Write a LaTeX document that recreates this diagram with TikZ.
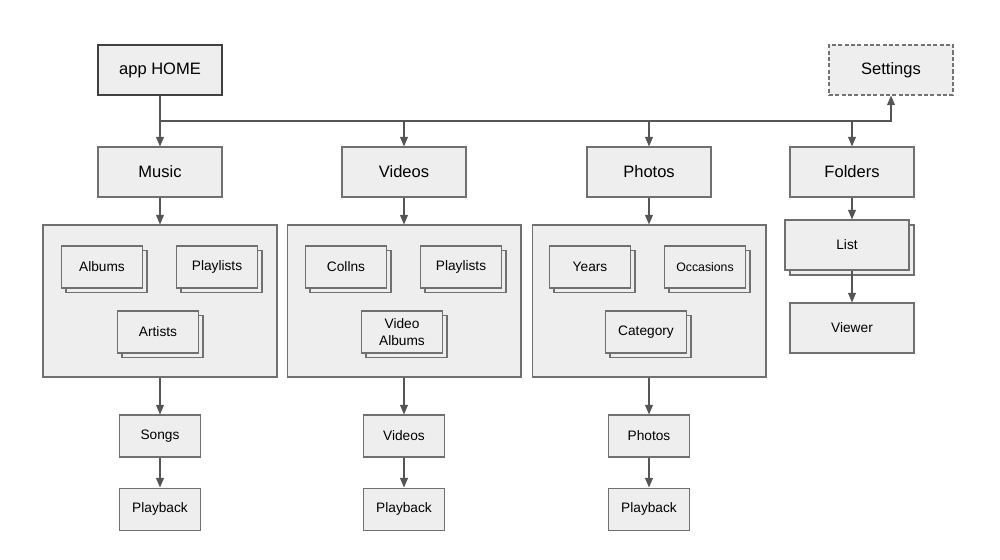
\documentclass[tikz,border=0pt]{standalone}
\usepackage{fontspec}
\setsansfont{Liberation Sans}
\usetikzlibrary{positioning, arrows.meta, shadows}
\definecolor{boxfill}{HTML}{EEEEEE}
\definecolor{boxline}{HTML}{707070}
\definecolor{arrowline}{HTML}{555555}

\begin{document}
\begin{tikzpicture}[
    x=0.02cm, y=-0.02cm,
    block/.style={draw=boxline, fill=boxfill, line width=0.6pt, inner sep=0pt,
                  minimum width=2.48cm, minimum height=1cm, align=center,
                  font=\fontsize{9.4}{11}\selectfont\sffamily},
    homebox/.style={block, draw=black!75, line width=1.1pt},
    extbox/.style={block, draw=black!55, dash pattern=on 2.3pt off 1.3pt},
    group/.style={draw=boxline, fill=boxfill, line width=0.6pt, inner sep=0pt,
                  minimum width=4.68cm, minimum height=3.04cm},
    smallfont/.style={font=\fontsize{7.8}{9.6}\selectfont\sffamily},
    small/.style={block, smallfont, minimum width=1.62cm, minimum height=0.84cm},
    stack/.style={small, copy shadow={shadow xshift=0.09cm, shadow yshift=-0.09cm}},
    arrow/.style={-{Triangle[length=5.5pt, width=4.5pt]}, draw=arrowline, line width=0.7pt},
]
\useasboundingbox (0,0) rectangle (1000,559);

% top row
\node[homebox] (home) at (160,70) {app HOME};
\node[extbox] (settings) at (891,70) {Settings};

\node[block] (music) at (160,172) {Music};
\node[block] (videos) at (404,172) {Videos};
\node[block] (photos) at (649,172) {Photos};
\node[block] (folders) at (852,172) {Folders};

% music
\node[group] (mgrp) at (160,301) {};
\node[stack] (malbums) at (102,267) {Albums};
\node[stack] (mlists) at (217,267) {Playlists};
\node[stack] (martists) at (158,332) {Artists};
\node[small] (songs) at (160,436) {Songs};
\node[small, below=0.6cm of songs] (mplay) {Playback};

% videos
\node[group] (vgrp) at (404,301) {};
\node[stack] (vcolls) at (346,267) {Collns};
\node[stack] (vlists) at (461,267) {Playlists};
\node[stack] (valbums) at (402,332) {Video\\Albums};
\node[small] (vids) at (404,436) {Videos};
\node[small, below=0.6cm of vids] (vplay) {Playback};

% photos
\node[group] (pgrp) at (649,301) {};
\node[stack] (pyears) at (590,267) {Years};
\node[stack, font=\fontsize{7}{9}\selectfont\sffamily] (poccas) at (705,267) {Occasions};
\node[stack] (pcat) at (646,332) {Category};
\node[small] (phots) at (649,436) {Photos};
\node[small, below=0.6cm of phots] (pplay) {Playback};

% folders
\node[block, smallfont, copy shadow={shadow xshift=0.1cm, shadow yshift=-0.1cm}] (list) at (847,245) {List};
\node[block, smallfont] (viewer) at (852,328) {Viewer};

% connectors
\coordinate (bus) at (160,121);
\draw[arrow] (home) -- (music);
\draw[arrow] (bus) -| (settings);
\foreach \n in {videos, photos, folders}{
    \draw[arrow] (bus -| \n) -- (\n);
}
\foreach \a/\b in {music/mgrp, mgrp/songs, songs/mplay,
                   videos/vgrp, vgrp/vids, vids/vplay,
                   photos/pgrp, pgrp/phots, phots/pplay}{
    \draw[arrow] (\a) -- (\b);
}
\draw[arrow] (folders) -- (folders |- list.north);
\draw[arrow] (list.south -| viewer) -- (viewer);

\end{tikzpicture}
\end{document}
